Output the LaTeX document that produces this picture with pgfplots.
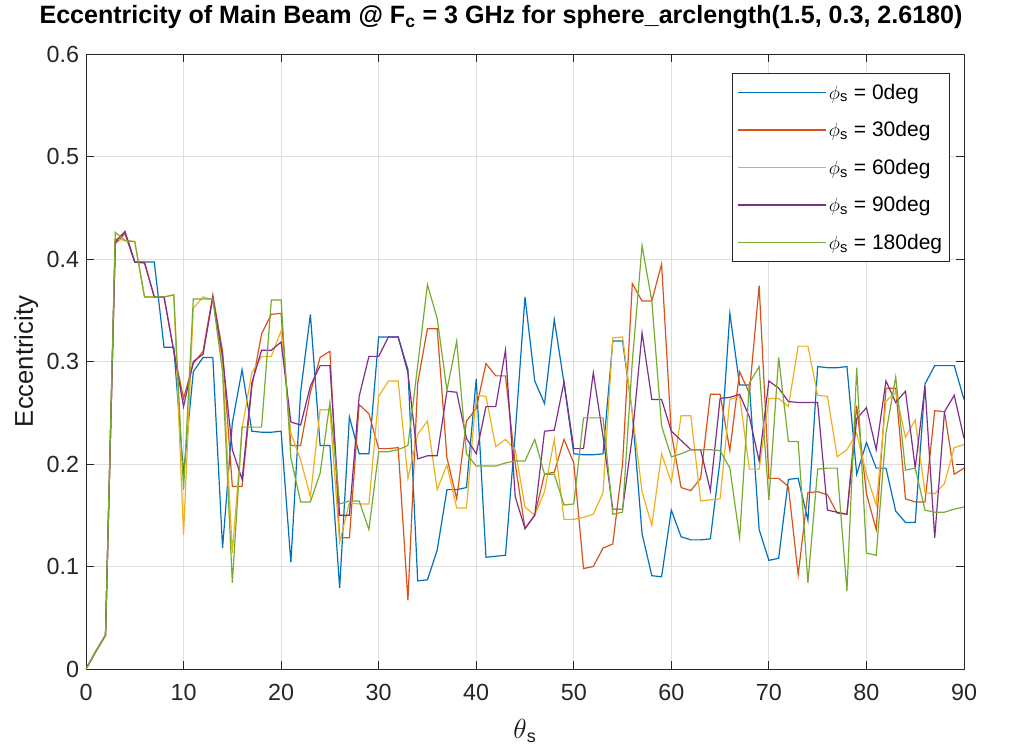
\documentclass[border=0pt]{standalone}
\usepackage{fontspec}
\setmainfont{Liberation Sans}
\usepackage{pgfplots}
\pgfplotsset{compat=1.18}
\definecolor{c1}{rgb}{0,0.447,0.741}
\definecolor{c2}{rgb}{0.85,0.325,0.098}
\definecolor{c3}{rgb}{0.929,0.694,0.125}
\definecolor{c4}{rgb}{0.494,0.184,0.556}
\definecolor{c5}{rgb}{0.466,0.674,0.188}
\begin{document}
\begin{tikzpicture}
\begin{axis}[
 at={(0pt,0pt)}, anchor=south west,
 scale only axis, width=658.5pt, height=461.25pt,
 xmin=0,xmax=90,ymin=0,ymax=0.6,
 xtick={0,10,...,90}, ytick={0,0.1,0.2,0.3,0.4,0.5,0.6},
 yticklabels={0,0.1,0.2,0.3,0.4,0.5,0.6},
 grid=major, major grid style={black!13, line width=0.6pt},
 axis line style={black!85, line width=0.7pt},
 tick style={black!85, line width=0.7pt},
 tick align=inside, major tick length=6pt,
 ticklabel style={font=\fontsize{17.5}{20}\selectfont, text=black!85},
 xticklabel style={yshift=-7.5pt},
 yticklabel style={xshift=-1.7pt},
 /pgf/number format/assume math mode=true,
 title={Eccentricity of Main Beam @ F\textsubscript{c} = 3 GHz for sphere\_arclength(1.5, 0.3, 2.6180)},
 title style={font=\bfseries\fontsize{18.8}{21}\selectfont, at={(axis description cs:0.4727,1)}, anchor=base, yshift=16.7pt},
 xlabel={$\theta$\textsubscript{s}}, ylabel={Eccentricity},
 xlabel style={at={(axis description cs:0.5,0)}, anchor=base, yshift=-51.75pt},
 ylabel style={at={(axis description cs:-0.0604,0.5)}, rotate=0, anchor=base},
 label style={font=\fontsize{19.25}{22}\selectfont, text=black!90},
 legend style={at={(0.984,0.9696)}, anchor=north east, font=\fontsize{15.75}{18}\selectfont, draw=black!85, line width=0.7pt, cells={anchor=west}, row sep=11.25pt, inner xsep=4pt, inner ysep=6pt, nodes={inner xsep=1.5pt}},
 legend image code/.code={\draw[mark repeat=2,mark phase=2,#1] plot coordinates {(0pt,0pt) (33pt,0pt) (66pt,0pt)};},
 every axis plot/.append style={line width=0.9pt, no marks},
]
\addplot[c1] coordinates {(0,0)(1,0.017)(2,0.033)(3,0.415)(4,0.425)(5,0.397)(6,0.397)(7,0.397)(8,0.314)(9,0.314)(10,0.19)(11,0.29)(12,0.304)(13,0.304)(14,0.118)
(15,0.24)(16,0.292)(17,0.232)(18,0.231)(19,0.231)(20,0.232)(21,0.104)(22,0.27)(23,0.346)(24,0.218)(25,0.218)(26,0.079)(27,0.246)(28,0.21)(29,0.21)
(30,0.324)(31,0.324)(32,0.324)(33,0.292)(34,0.086)(35,0.087)(36,0.116)(37,0.175)(38,0.175)(39,0.177)(40,0.283)(41,0.109)(42,0.11)(43,0.111)(44,0.23)
(45,0.363)(46,0.281)(47,0.259)(48,0.341)(49,0.279)(50,0.21)(51,0.209)(52,0.209)(53,0.21)(54,0.32)(55,0.32)(56,0.25)(57,0.132)(58,0.091)(59,0.09)
(60,0.155)(61,0.129)(62,0.126)(63,0.126)(64,0.127)(65,0.204)(66,0.347)(67,0.277)(68,0.277)(69,0.136)(70,0.106)(71,0.108)(72,0.185)(73,0.186)(74,0.145)
(75,0.295)(76,0.294)(77,0.294)(78,0.295)(79,0.19)(80,0.221)(81,0.196)(82,0.196)(83,0.154)(84,0.143)(85,0.143)(86,0.278)(87,0.296)(88,0.296)(89,0.296)(90,0.263)};
\addlegendentry{$\phi$\textsubscript{s} = 0deg}
\addplot[c2] coordinates {(0,0)(1,0.017)(2,0.033)(3,0.415)(4,0.425)(5,0.397)(6,0.397)(7,0.363)(8,0.363)(9,0.31)(10,0.264)(11,0.298)(12,0.31)(13,0.365)(14,0.31)
(15,0.178)(16,0.178)(17,0.275)(18,0.327)(19,0.346)(20,0.347)(21,0.218)(22,0.218)(23,0.27)(24,0.304)(25,0.31)(26,0.128)(27,0.128)(28,0.258)(29,0.249)
(30,0.215)(31,0.215)(32,0.216)(33,0.067)(34,0.279)(35,0.332)(36,0.332)(37,0.206)(38,0.166)(39,0.242)(40,0.254)(41,0.298)(42,0.286)(43,0.286)(44,0.2)
(45,0.137)(46,0.15)(47,0.19)(48,0.192)(49,0.224)(50,0.201)(51,0.098)(52,0.1)(53,0.118)(54,0.122)(55,0.2)(56,0.376)(57,0.359)(58,0.359)(59,0.395)
(60,0.23)(61,0.177)(62,0.174)(63,0.186)(64,0.268)(65,0.268)(66,0.213)(67,0.29)(68,0.269)(69,0.374)(70,0.186)(71,0.186)(72,0.178)(73,0.092)(74,0.172)
(75,0.173)(76,0.17)(77,0.152)(78,0.151)(79,0.257)(80,0.171)(81,0.136)(82,0.274)(83,0.274)(84,0.166)(85,0.163)(86,0.163)(87,0.252)(88,0.251)(89,0.19)(90,0.196)};
\addlegendentry{$\phi$\textsubscript{s} = 30deg}
\addplot[c3] coordinates {(0,0)(1,0.017)(2,0.033)(3,0.42)(4,0.418)(5,0.417)(6,0.363)(7,0.363)(8,0.363)(9,0.365)(10,0.131)(11,0.352)(12,0.363)(13,0.36)(14,0.3)
(15,0.113)(16,0.235)(17,0.289)(18,0.305)(19,0.305)(20,0.33)(21,0.23)(22,0.204)(23,0.168)(24,0.253)(25,0.253)(26,0.124)(27,0.162)(28,0.161)(29,0.161)
(30,0.266)(31,0.281)(32,0.281)(33,0.186)(34,0.229)(35,0.242)(36,0.175)(37,0.199)(38,0.157)(39,0.157)(40,0.267)(41,0.266)(42,0.217)(43,0.224)(44,0.214)
(45,0.158)(46,0.15)(47,0.173)(48,0.224)(49,0.146)(50,0.146)(51,0.148)(52,0.151)(53,0.172)(54,0.323)(55,0.324)(56,0.25)(57,0.173)(58,0.14)(59,0.21)
(60,0.182)(61,0.247)(62,0.247)(63,0.164)(64,0.165)(65,0.166)(66,0.263)(67,0.266)(68,0.195)(69,0.195)(70,0.264)(71,0.264)(72,0.256)(73,0.315)(74,0.315)
(75,0.267)(76,0.266)(77,0.207)(78,0.214)(79,0.23)(80,0.19)(81,0.16)(82,0.261)(83,0.27)(84,0.226)(85,0.243)(86,0.172)(87,0.171)(88,0.181)(89,0.216)(90,0.219)};
\addlegendentry{$\phi$\textsubscript{s} = 60deg}
\addplot[c4] coordinates {(0,0)(1,0.017)(2,0.033)(3,0.417)(4,0.427)(5,0.397)(6,0.396)(7,0.363)(8,0.363)(9,0.31)(10,0.256)(11,0.3)(12,0.307)(13,0.362)(14,0.305)
(15,0.214)(16,0.185)(17,0.279)(18,0.311)(19,0.311)(20,0.319)(21,0.241)(22,0.238)(23,0.276)(24,0.296)(25,0.296)(26,0.15)(27,0.15)(28,0.266)(29,0.305)
(30,0.305)(31,0.324)(32,0.324)(33,0.289)(34,0.205)(35,0.208)(36,0.208)(37,0.271)(38,0.27)(39,0.225)(40,0.21)(41,0.256)(42,0.256)(43,0.311)(44,0.168)
(45,0.137)(46,0.15)(47,0.232)(48,0.233)(49,0.28)(50,0.215)(51,0.215)(52,0.289)(53,0.227)(54,0.156)(55,0.156)(56,0.227)(57,0.328)(58,0.263)(59,0.263)
(60,0.232)(61,0.223)(62,0.214)(63,0.214)(64,0.174)(65,0.264)(66,0.265)(67,0.268)(68,0.246)(69,0.203)(70,0.281)(71,0.274)(72,0.261)(73,0.26)(74,0.26)
(75,0.26)(76,0.155)(77,0.153)(78,0.151)(79,0.244)(80,0.255)(81,0.214)(82,0.281)(83,0.26)(84,0.271)(85,0.196)(86,0.276)(87,0.128)(88,0.251)(89,0.267)(90,0.225)};
\addlegendentry{$\phi$\textsubscript{s} = 90deg}
\addplot[c5] coordinates {(0,0)(1,0.017)(2,0.033)(3,0.426)(4,0.418)(5,0.417)(6,0.363)(7,0.363)(8,0.363)(9,0.365)(10,0.175)(11,0.361)(12,0.361)(13,0.361)(14,0.29)
(15,0.084)(16,0.236)(17,0.236)(18,0.236)(19,0.36)(20,0.36)(21,0.206)(22,0.163)(23,0.163)(24,0.191)(25,0.26)(26,0.161)(27,0.164)(28,0.164)(29,0.136)
(30,0.212)(31,0.212)(32,0.214)(33,0.218)(34,0.296)(35,0.375)(36,0.342)(37,0.272)(38,0.32)(39,0.21)(40,0.198)(41,0.198)(42,0.198)(43,0.201)(44,0.203)
(45,0.203)(46,0.224)(47,0.19)(48,0.19)(49,0.16)(50,0.161)(51,0.245)(52,0.245)(53,0.245)(54,0.151)(55,0.153)(56,0.3)(57,0.413)(58,0.359)(59,0.237)
(60,0.207)(61,0.21)(62,0.214)(63,0.214)(64,0.214)(65,0.213)(66,0.196)(67,0.128)(68,0.279)(69,0.295)(70,0.165)(71,0.304)(72,0.222)(73,0.222)(74,0.084)
(75,0.195)(76,0.196)(77,0.196)(78,0.076)(79,0.294)(80,0.113)(81,0.111)(82,0.23)(83,0.285)(84,0.194)(85,0.196)(86,0.155)(87,0.153)(88,0.153)(89,0.156)(90,0.158)};
\addlegendentry{$\phi$\textsubscript{s} = 180deg}
\end{axis}
\pgfresetboundingbox
\path (-64.5pt,-60pt) rectangle (697.5pt,501.75pt);
\end{tikzpicture}
\end{document}
